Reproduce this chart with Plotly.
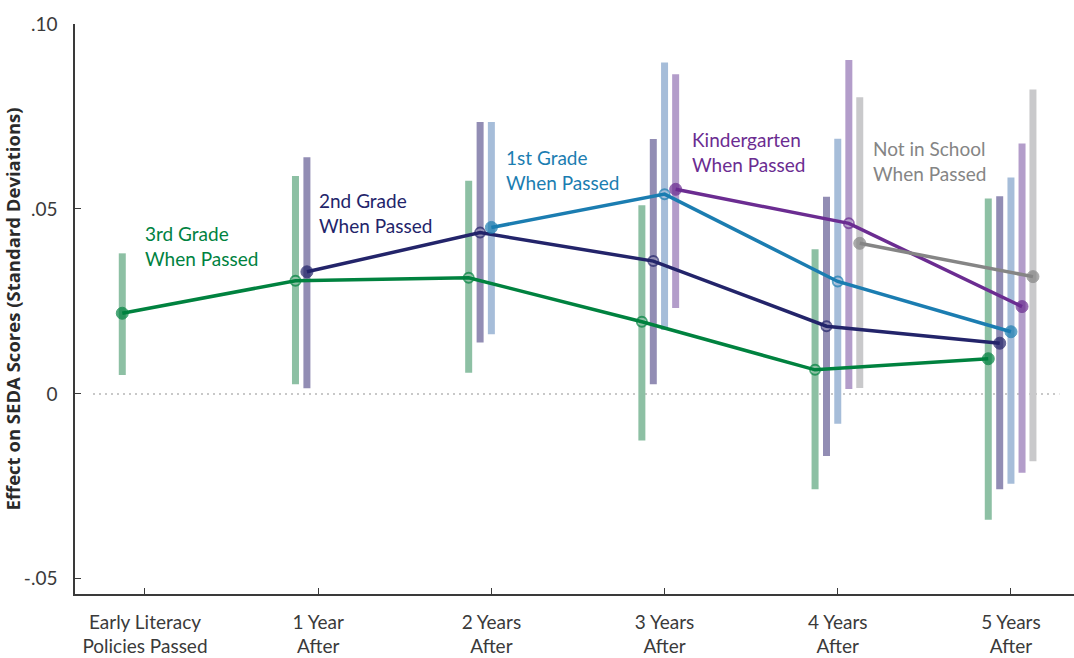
import plotly.graph_objects as go

# Categories along the x axis
periods = ["Early Literacy<br>Policies Passed", "1 Year<br>After", "2 Years<br>After",
           "3 Years<br>After", "4 Years<br>After", "5 Years<br>After"]

# Cohort series: period index, point estimate, 95% interval low/high
grade3_idx = [0, 1, 2, 3, 4, 5]
grade3_est = [0.0218, 0.0306, 0.0314, 0.0195, 0.0065, 0.0095]
grade3_lo = [0.0051, 0.0026, 0.0057, -0.0126, -0.0258, -0.0340]
grade3_hi = [0.0380, 0.0589, 0.0576, 0.0510, 0.0391, 0.0528]

grade2_idx = [1, 2, 3, 4, 5]
grade2_est = [0.0330, 0.0436, 0.0359, 0.0183, 0.0137]
grade2_lo = [0.0015, 0.0139, 0.0026, -0.0168, -0.0258]
grade2_hi = [0.0640, 0.0735, 0.0689, 0.0533, 0.0534]

grade1_idx = [2, 3, 4, 5]
grade1_est = [0.0450, 0.0540, 0.0304, 0.0168]
grade1_lo = [0.0161, 0.0173, -0.0081, -0.0243]
grade1_hi = [0.0735, 0.0896, 0.0690, 0.0585]

gradeK_idx = [3, 4, 5]
gradeK_est = [0.0553, 0.0461, 0.0236]
gradeK_lo = [0.0232, 0.0013, -0.0213]
gradeK_hi = [0.0864, 0.0903, 0.0677]

notin_idx = [4, 5]
notin_est = [0.0407, 0.0317]
notin_lo = [0.0016, -0.0182]
notin_hi = [0.0802, 0.0823]

labels = ["3rd Grade<br>When Passed", "2nd Grade<br>When Passed", "1st Grade<br>When Passed",
          "Kindergarten<br>When Passed", "Not in School<br>When Passed"]

TEXT_FONT = "Lato"
TEXT_SIZE = 19

series = [
    dict(idx=grade3_idx, est=grade3_est, lo=grade3_lo, hi=grade3_hi, shift=-0.131,
         line="#00823F", band="#8DC0A4", label=labels[0], lx=-0.006, ly=0.0468),
    dict(idx=grade2_idx, est=grade2_est, lo=grade2_lo, hi=grade2_hi, shift=-0.065,
         line="#23246A", band="#928DB4", label=labels[1], lx=0.999, ly=0.0557),
    dict(idx=grade1_idx, est=grade1_est, lo=grade1_lo, hi=grade1_hi, shift=0.0,
         line="#1B7DB1", band="#A6BDD9", label=labels[2], lx=2.079, ly=0.0674),
    dict(idx=gradeK_idx, est=gradeK_est, lo=gradeK_lo, hi=gradeK_hi, shift=0.064,
         line="#6B2C91", band="#B39DCA", label=labels[3], lx=3.154, ly=0.0722),
    dict(idx=notin_idx, est=notin_est, lo=notin_lo, hi=notin_hi, shift=0.127,
         line="#858585", band="#C9C9CB", label=labels[4], lx=4.196, ly=0.0698),
]

fig = go.Figure()

# Interval bars first so every line sits above every bar
for s in series:
    xs, ys = [], []
    for i, lo, hi in zip(s["idx"], s["lo"], s["hi"]):
        xs += [i + s["shift"], i + s["shift"], None]
        ys += [lo, hi, None]
    fig.add_trace(go.Scatter(x=xs, y=ys, mode="lines",
                             line=dict(color=s["band"], width=7),
                             hoverinfo="skip", showlegend=False))

# Estimate lines: solid markers at the ends, open markers in between
for s in series:
    n = len(s["idx"])
    symbols = ["circle" if k in (0, n - 1) else "circle-open" for k in range(n)]
    sizes = [12 if k in (0, n - 1) else 10 for k in range(n)]
    widths = [1 if k in (0, n - 1) else 2 for k in range(n)]
    fig.add_trace(go.Scatter(
        x=[i + s["shift"] for i in s["idx"]], y=s["est"], mode="lines+markers",
        line=dict(color=s["line"], width=3.5),
        marker=dict(symbol=symbols, size=sizes, color=s["line"],
                    line=dict(color=s["line"], width=widths)),
        showlegend=False))
    fig.add_annotation(x=s["lx"], y=s["ly"], xref="x", yref="y", text=s["label"],
                       showarrow=False, xanchor="left", yanchor="top", align="left",
                       borderpad=0,
                       font=dict(family=TEXT_FONT, size=TEXT_SIZE, color=s["line"]))

# Dotted zero reference
fig.add_shape(type="line", xref="x", yref="y", x0=-0.3, x1=5.28, y0=0, y1=0,
              line=dict(color="#C8C8C8", width=2, dash="2px,4px"), layer="below")

fig.update_layout(
    width=1074, height=658,
    margin=dict(l=75, r=0, t=24, b=64),
    plot_bgcolor="white", paper_bgcolor="white",
    font=dict(family=TEXT_FONT, size=TEXT_SIZE, color="#3A3A3A"),
    xaxis=dict(range=[-0.404, 5.364], tickmode="array", automargin=False,
               tickvals=list(range(len(periods))), ticktext=periods,
               showgrid=False, zeroline=False, showline=True,
               linecolor="#3A3A3A", linewidth=1.5,
               ticks="inside", ticklen=6, tickwidth=1.2, tickcolor="#3A3A3A",
               ticklabelstandoff=10,
               tickfont=dict(family=TEXT_FONT, size=TEXT_SIZE, color="#3A3A3A")),
    yaxis=dict(range=[-0.0541, 0.100], tickmode="array", automargin=False,
               tickvals=[0.10, 0.05, 0, -0.05], ticktext=[".10", ".05", "0", "-.05"],
               showgrid=False, zeroline=False, showline=True,
               linecolor="#3A3A3A", linewidth=1.5,
               ticks="inside", ticklen=6, tickwidth=1.2, tickcolor="#3A3A3A",
               ticklabelstandoff=12,
               tickfont=dict(family=TEXT_FONT, size=TEXT_SIZE, color="#3A3A3A")),
)
fig.update_yaxes(title=dict(text="<b>Effect on SEDA Scores (Standard Deviations)</b>",
                            font=dict(family="Open Sans", size=18.5, color="#2A2A2A"),
                            standoff=6))

fig.write_html("out.html")
